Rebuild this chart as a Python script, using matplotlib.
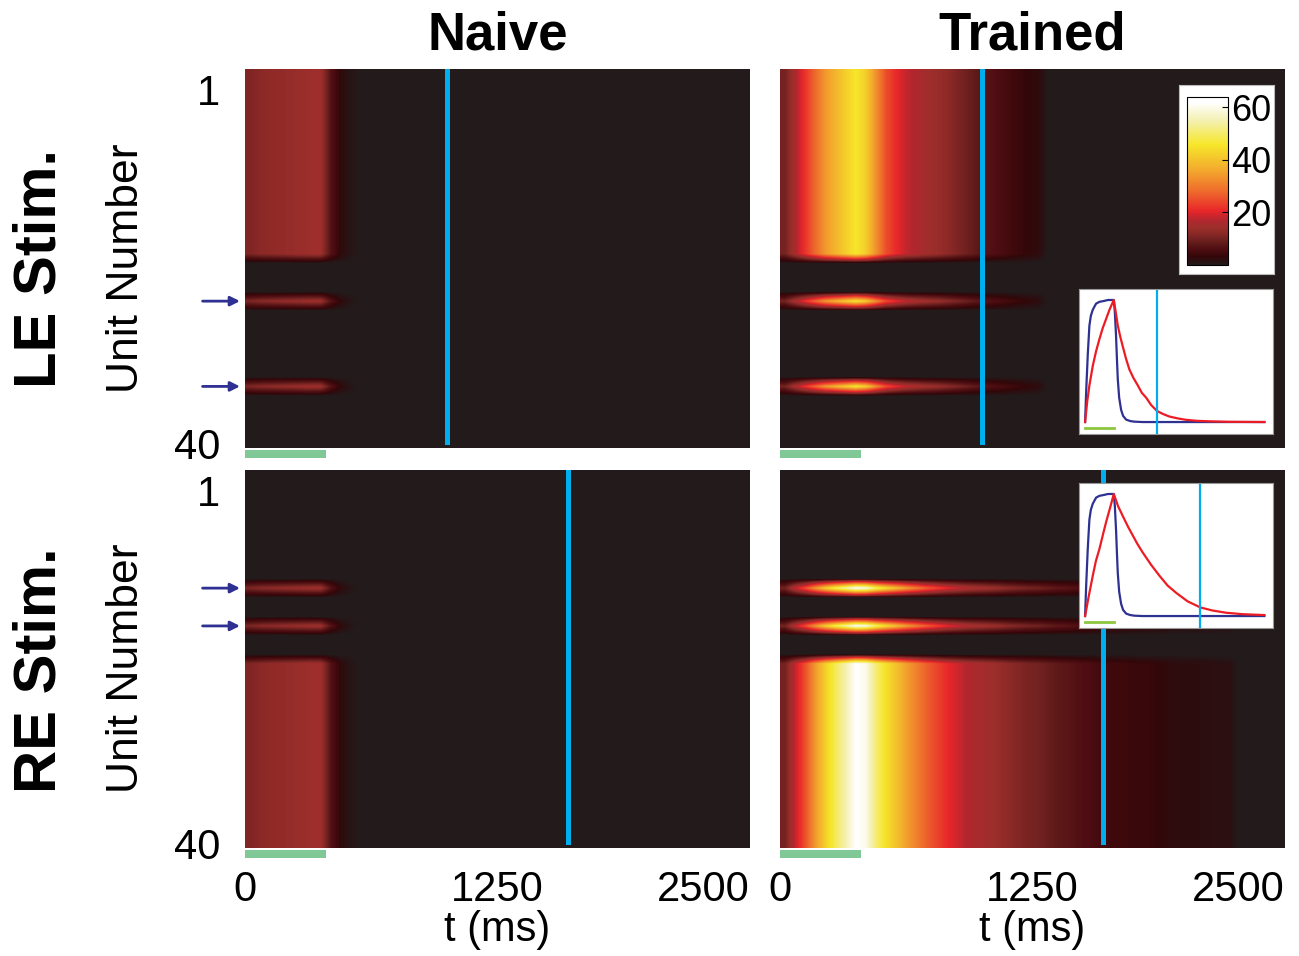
import numpy as np
import matplotlib.pyplot as plt
from matplotlib.colors import LinearSegmentedColormap
from matplotlib.patches import Rectangle

plt.rcParams['font.family'] = ['Liberation Sans', 'DejaVu Sans']

# firing rate (Hz) per 50 ms time bin
t_max = 2500
n_bins = 50
n_units = 40
naive_rate = [11, 12, 12.5, 13, 13.5, 14, 14.5, 14.5, 7, 2.5, 0.8]
trained_le_rate = [10, 16, 22, 28, 34, 38, 42, 46, 42, 33, 25, 21, 18, 16.5, 15,
                   14, 12.5, 11, 9.5, 8, 7, 6, 5, 4, 3, 2.5]
trained_re_rate = [10, 18, 25, 34, 42, 49, 55, 62, 60, 51, 45, 40, 35, 31, 27,
                   24, 21, 19, 17, 16, 15, 14, 12.5, 11.5, 10.5, 10, 9, 8, 7.5,
                   6.5, 6, 5, 4.5, 4.2, 4, 3.5, 3.5, 3, 2.5, 2.2, 2, 2, 1.8,
                   1.6, 1.5]

le_units = list(range(1, 21)) + [25, 34]
re_units = [13, 17] + list(range(21, 41))
le_arrows = [25, 34]
re_arrows = [13, 17]

stim = [0, 400]
test_le = 1000
test_re = 1600

# normalised responses in the insets
inset_t_blue = [0, 15, 37, 60, 80, 107, 153, 200, 246, 320, 400, 415, 432, 445,
                456, 475, 502, 530, 572, 630, 688, 800, 2500]
inset_blue = [0, 0.25, 0.55, 0.79, 0.87, 0.92, 0.97, 0.985, 0.99, 1, 1, 0.9, 0.7,
              0.5, 0.35, 0.2, 0.1, 0.05, 0.02, 0.008, 0.003, 0, 0]
inset_t_red_le = [0, 30, 60, 107, 153, 200, 246, 290, 340, 400, 430, 456, 490, 525,
                  570, 618, 675, 735, 790, 851, 920, 1004, 1090, 1176, 1290, 1409,
                  1560, 1734, 2000, 2500]
inset_red_le = [0, 0.17, 0.30, 0.46, 0.58, 0.68, 0.77, 0.84, 0.92, 1, 0.89, 0.79,
                0.70, 0.62, 0.52, 0.43, 0.36, 0.30, 0.24, 0.20, 0.14, 0.09, 0.065,
                0.045, 0.03, 0.018, 0.01, 0.006, 0.002, 0]
inset_t_red_re = [0, 50, 107, 150, 200, 250, 293, 350, 400, 460, 525, 600, 665, 730,
                  804, 920, 1037, 1150, 1270, 1430, 1609, 1780, 1967, 2200, 2500]
inset_red_re = [0, 0.16, 0.33, 0.45, 0.55, 0.67, 0.77, 0.89, 1, 0.90, 0.82, 0.73,
                0.66, 0.59, 0.52, 0.42, 0.33, 0.25, 0.19, 0.12, 0.07, 0.045, 0.027,
                0.015, 0.008]

cmap_pts = [(0, '#231a1b'), (1.5, '#2b1012'), (3, '#330709'), (4.5, '#420a0c'),
            (6, '#4f0d13'), (8, '#5e1a18'), (10, '#752222'), (12, '#8b2927'),
            (14.5, '#9e2f2b'), (17, '#b3262e'), (20.5, '#e8262a'), (28, '#ee6a2c'),
            (36, '#f3a82d'), (46, '#f6e72a'), (55, '#f4f0b0'), (62, '#ffffff'),
            (64, '#ffffff')]
vmax = 64
cmap = LinearSegmentedColormap.from_list('rate', [(v / vmax, c) for v, c in cmap_pts])


def rate_map(units, profile):
    m = np.zeros((n_units, n_bins))
    for u in units:
        m[u - 1, :len(profile)] = profile
    return m


W, H = 1299, 956
fig = plt.figure(figsize=(W / 100, H / 100), dpi=100)


def px_axes(x0, y0, x1, y1):
    return fig.add_axes([x0 / W, 1 - y1 / H, (x1 - x0) / W, (y1 - y0) / H])


panels = [
    (245, 69, 448, rate_map(le_units, naive_rate), test_le, le_arrows, 'Naive', False),
    (780, 69, 448, rate_map(le_units, trained_le_rate), test_le, None, 'Trained', False),
    (245, 470, 848, rate_map(re_units, naive_rate), test_re, re_arrows, None, True),
    (780, 470, 848, rate_map(re_units, trained_re_rate), test_re, None, None, True),
]

for x0, y0, y1, m, t_test, arrows, title, bottom in panels:
    ax = px_axes(x0, y0, x0 + 505, y1)
    im = ax.imshow(m, cmap=cmap, vmin=0, vmax=vmax, aspect='auto',
                   interpolation='bilinear', extent=[0, t_max, n_units + 0.5, 0.5])
    ax.axvline(t_test, ymin=0.015, ymax=0.995, color='#00aeef', lw=3.6)
    ax.add_patch(Rectangle((stim[0], -0.027), stim[1] - stim[0], 0.022,
                           transform=ax.get_xaxis_transform(), clip_on=False,
                           color='#80c896', lw=0))
    for s in ax.spines.values():
        s.set_visible(False)
    ax.tick_params(length=0, labelsize=30)
    if arrows:
        ax.set_yticks([1, n_units])
        ax.set_yticklabels(['1', '40'])
        ax.get_yticklabels()[0].set_va('top')
        ax.tick_params(axis='y', pad=18)
        for r in arrows:
            ax.annotate('', xy=(-0.01, r), xytext=(-0.084, r),
                        xycoords=('axes fraction', 'data'),
                        textcoords=('axes fraction', 'data'),
                        arrowprops=dict(arrowstyle='-|>', color='#2e3192', lw=2,
                                        mutation_scale=14, shrinkA=0, shrinkB=0),
                        annotation_clip=False)
    else:
        ax.set_yticks([])
    if bottom:
        ax.set_xticks([0, 1250, 2500])
        ax.set_xticklabels(['0', '1250', '2500'])
        ax.get_xticklabels()[2].set_ha('right')
        ax.tick_params(axis='x', pad=16)
        ax.set_xlabel('t (ms)', fontsize=30, labelpad=0)
    else:
        ax.set_xticks([])
    if title:
        ax.set_title(title, fontsize=38, fontweight='bold', pad=14)

fig.text(40 / W, 1 - 268 / H, 'LE Stim.', rotation=90, fontsize=43,
         fontweight='bold', ha='center', va='center')
fig.text(40 / W, 1 - 670 / H, 'RE Stim.', rotation=90, fontsize=43,
         fontweight='bold', ha='center', va='center')
fig.text(127 / W, 1 - 268 / H, 'Unit Number', rotation=90, fontsize=32,
         ha='center', va='center')
fig.text(127 / W, 1 - 668 / H, 'Unit Number', rotation=90, fontsize=32,
         ha='center', va='center')

# colorbar on a white card
box = px_axes(1179, 85, 1274, 274)
box.set_xticks([])
box.set_yticks([])
for s in box.spines.values():
    s.set_color('#bbbbbb')
cax = px_axes(1187, 97, 1228, 265)
cb = fig.colorbar(im, cax=cax, ticks=[20, 40, 60])
cb.outline.set_linewidth(0.8)
cax.tick_params(labelsize=26, direction='in', length=4, pad=2)

# insets with normalised responses
for y0, y1, t_red, red, t_test in [(289, 434, inset_t_red_le, inset_red_le, test_le),
                                   (483, 628, inset_t_red_re, inset_red_re, test_re)]:
    ia = px_axes(1079, y0, 1273, y1)
    ia.plot(inset_t_blue, inset_blue, color='#2e3192', lw=1.6)
    ia.plot(t_red, red, color='#ed1c24', lw=1.6)
    ia.axvline(t_test, color='#00aeef', lw=1.6)
    ia.plot(stim, [-0.052, -0.052], color='#8dc63f', lw=2)
    ia.set_xlim(-85, 2620)
    ia.set_ylim(-0.098, 1.09)
    ia.set_xticks([])
    ia.set_yticks([])
    for s in ia.spines.values():
        s.set_color('#999999')
        s.set_linewidth(0.8)

fig.savefig('out.png', dpi=100)
